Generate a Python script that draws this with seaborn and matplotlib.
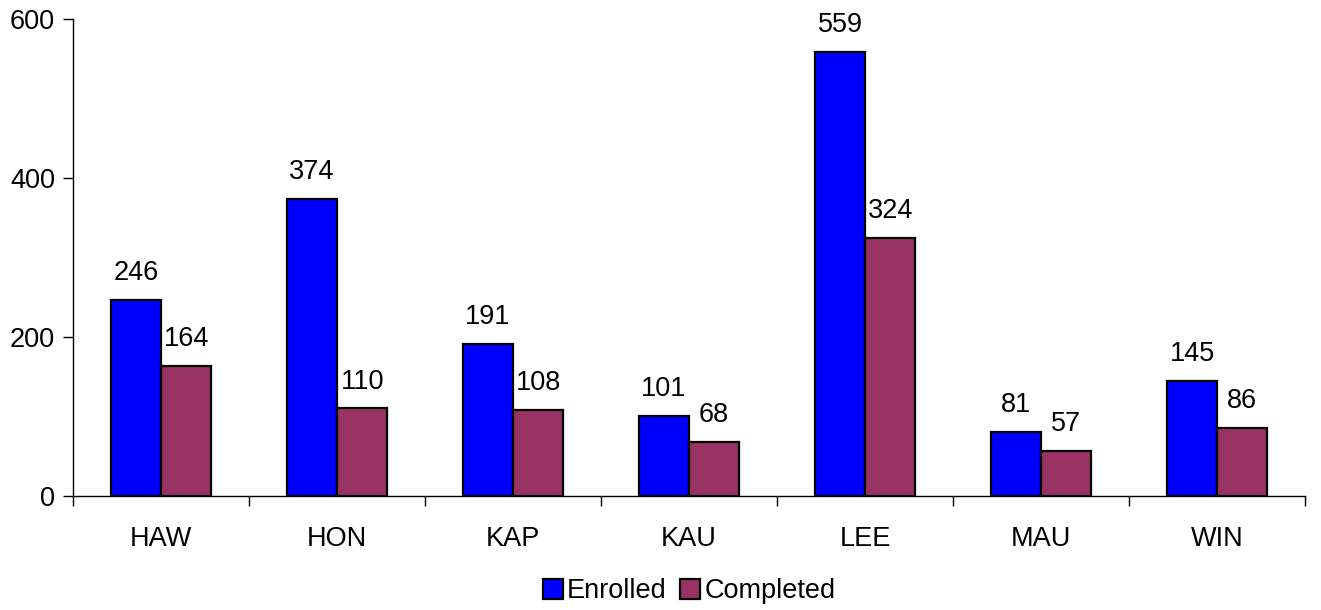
import pandas as pd
import matplotlib.pyplot as plt
import seaborn as sns
import numpy as np

sns.set_style("white")
plt.rcParams['font.family'] = ['Liberation Sans', 'DejaVu Sans']
plt.rcParams['text.color'] = 'black'
plt.rcParams['xtick.color'] = 'black'
plt.rcParams['ytick.color'] = 'black'
plt.rcParams['xtick.labelcolor'] = 'black'
plt.rcParams['ytick.labelcolor'] = 'black'

# Data
campuses = ['HAW', 'HON', 'KAP', 'KAU', 'LEE', 'MAU', 'WIN']
enrolled = [246, 374, 191, 101, 559, 81, 145]
completed = [164, 110, 108, 68, 324, 57, 86]

df = pd.DataFrame({
    'campus': campuses * 2,
    'count': enrolled + completed,
    'status': ['Enrolled'] * len(campuses) + ['Completed'] * len(campuses),
})

fs = 19.5

fig = plt.figure(figsize=(13.21, 6.10), dpi=100)
ax = fig.add_axes([0.0553, 0.187, 0.9327, 0.782])

sns.barplot(data=df, x='campus', y='count', hue='status', order=campuses,
            hue_order=['Enrolled', 'Completed'],
            palette={'Enrolled': '#0000FF', 'Completed': '#993366'},
            width=0.57, edgecolor='black', linewidth=1.6, saturation=1, ax=ax)

for cont in ax.containers:
    ax.bar_label(cont, padding=10, fontsize=fs, color='black')

ax.set_ylim(0, 600)
ax.set_xlim(-0.5, len(campuses) - 0.5)
ax.set_yticks([0, 200, 400, 600])
ax.tick_params(axis='y', labelsize=fs, length=7, width=1, direction='out', left=True, pad=6)
ax.tick_params(axis='x', which='major', labelsize=fs, length=0, pad=22)
ax.set_xticks(np.arange(-0.5, len(campuses)), minor=True)
ax.tick_params(axis='x', which='minor', length=7, width=1, direction='out', bottom=True)
ax.set_xlabel('')
ax.set_ylabel('')

for side in ['top', 'right']:
    ax.spines[side].set_visible(False)
for side in ['left', 'bottom']:
    ax.spines[side].set_color('black')
    ax.spines[side].set_linewidth(1)

leg = ax.legend(loc='center', bbox_to_anchor=(0.5, -0.2), ncol=2, frameon=False,
                fontsize=fs, handlelength=0.75, handleheight=0.75, handletextpad=0.15,
                columnspacing=0.5)

plt.savefig('out.png', dpi=100)
plt.close()
